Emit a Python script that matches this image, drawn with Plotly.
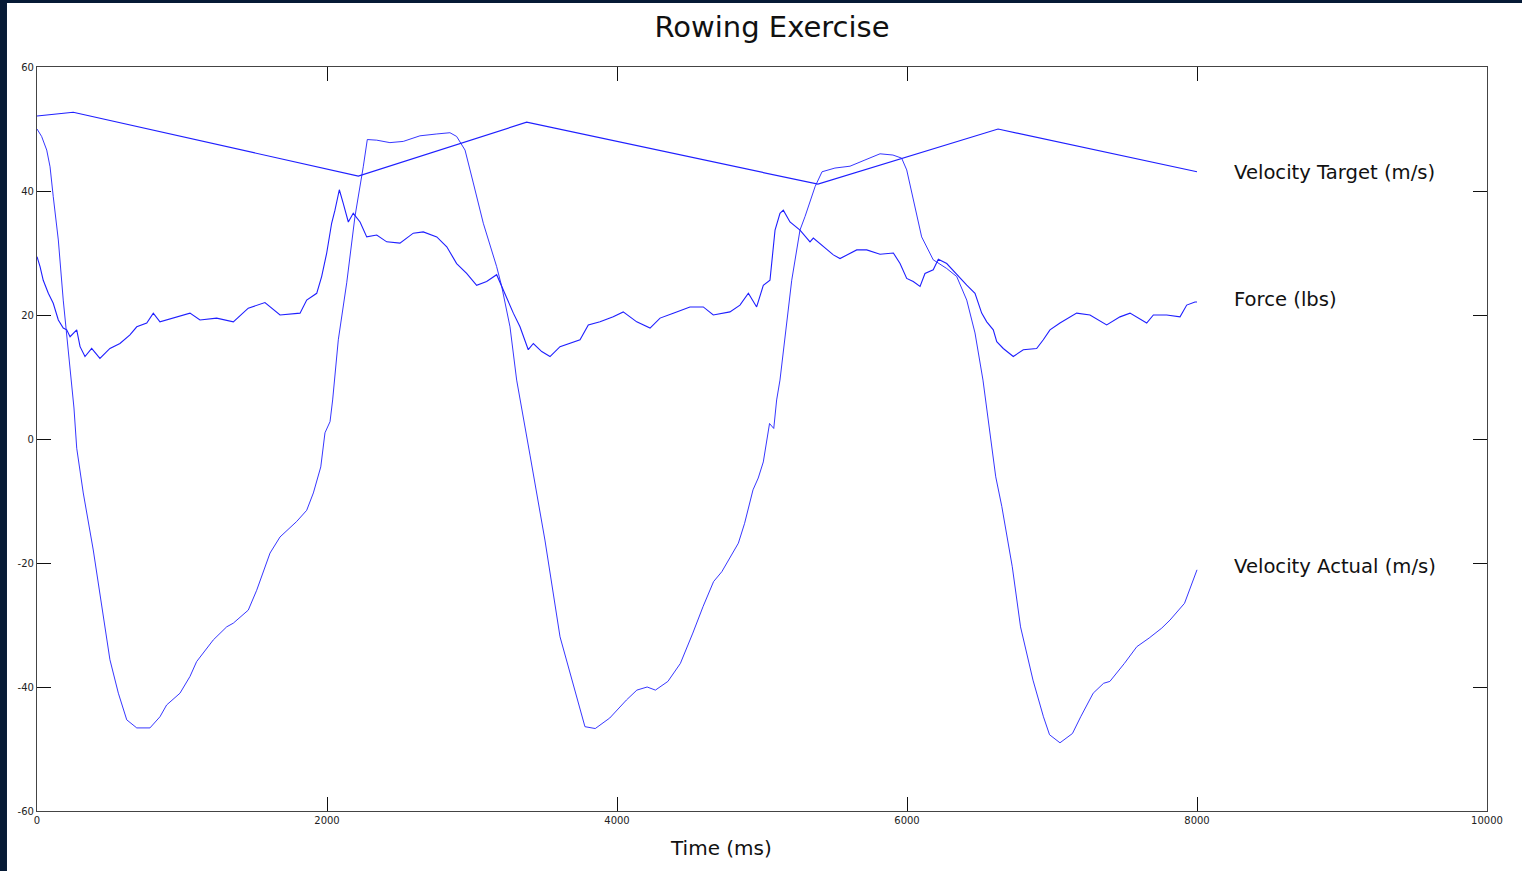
import plotly.graph_objects as go

# ---- data ----
target_t = [0, 250, 2216, 3377, 5386, 6628, 8000]
target_v = [52.1, 52.7, 42.4, 51.1, 41.1, 50.0, 43.1]

actual_t = [0, 32, 67, 90, 112, 147, 181, 216, 234, 255, 274, 319, 388, 446, 503, 561, 619, 688, 779,
            848, 894, 986, 1055, 1101, 1216, 1308, 1354, 1457, 1515, 1607, 1676, 1791, 1860, 1906, 1929,
            1957, 1986, 2021, 2039, 2078, 2136, 2193, 2250, 2278, 2343, 2434, 2526, 2641, 2757, 2848,
            2894, 2952, 3009, 3078, 3170, 3205, 3262, 3308, 3400, 3503, 3607, 3692, 3779, 3850, 3950,
            4065, 4137, 4208, 4265, 4351, 4437, 4523, 4594, 4666, 4723, 4837, 4880, 4938, 4974, 5009,
            5052, 5081, 5101, 5124, 5205, 5262, 5297, 5366, 5414, 5503, 5607, 5710, 5814, 5903, 5963,
            5998, 6043, 6101, 6181, 6274, 6343, 6412, 6469, 6524, 6612, 6654, 6726, 6783, 6869, 6941,
            6983, 7055, 7141, 7198, 7284, 7356, 7399, 7499, 7585, 7670, 7757, 7814, 7914, 7957, 8000]
actual_v = [50.0, 48.8, 46.6, 43.9, 39.1, 32.1, 22.4, 13.9, 9.5, 5.0, -1.5, -8.7, -17.9, -27.0, -35.6,
            -41.0, -45.3, -46.6, -46.6, -44.8, -42.9, -41.0, -38.3, -35.9, -32.4, -30.3, -29.7, -27.6,
            -24.4, -18.4, -15.8, -13.3, -11.5, -8.7, -6.6, -4.5, 1.0, 2.8, 6.3, 16.0, 25.2, 35.9, 43.9,
            48.3, 48.2, 47.8, 48.0, 48.9, 49.2, 49.4, 48.8, 46.6, 41.3, 34.8, 27.8, 24.6, 18.1, 9.5,
            -2.6, -16.3, -31.9, -38.9, -46.4, -46.7, -45.0, -42.1, -40.5, -40.0, -40.5, -39.1, -36.2,
            -31.3, -27.0, -23.0, -21.4, -16.8, -13.6, -8.2, -6.3, -3.7, 2.5, 1.7, 6.3, 9.5, 25.6, 33.7,
            35.9, 40.7, 43.1, 43.7, 44.0, 45.0, 46.0, 45.8, 45.3, 43.4, 38.5, 32.6, 28.9, 27.5, 26.2,
            22.4, 17.1, 9.5, -6.1, -10.9, -20.6, -30.3, -38.9, -44.8, -47.7, -49.0, -47.5, -44.8, -41.0,
            -39.4, -39.1, -36.2, -33.5, -32.1, -30.5, -29.2, -26.5, -23.8, -21.1]

force_t = [0, 21, 43, 78, 112, 147, 181, 205, 228, 274, 297, 331, 377, 434, 503, 572, 641, 688, 757,
           802, 848, 940, 1055, 1124, 1239, 1354, 1457, 1572, 1676, 1814, 1860, 1929, 1963, 1998, 2032,
           2055, 2085, 2112, 2147, 2181, 2228, 2274, 2343, 2412, 2503, 2595, 2664, 2757, 2826, 2894,
           2963, 3032, 3101, 3170, 3216, 3285, 3331, 3388, 3423, 3481, 3538, 3607, 3745, 3802, 3883,
           3974, 4043, 4136, 4228, 4297, 4388, 4503, 4595, 4664, 4779, 4848, 4906, 4963, 5009, 5055,
           5090, 5124, 5147, 5193, 5262, 5331, 5354, 5423, 5492, 5538, 5653, 5722, 5814, 5906, 5952,
           5998, 6043, 6090, 6124, 6181, 6216, 6274, 6343, 6412, 6469, 6515, 6550, 6595, 6619, 6664,
           6733, 6802, 6894, 6940, 6986, 7055, 7170, 7262, 7377, 7469, 7538, 7653, 7699, 7791, 7883,
           7929, 7986, 8000]
force_v = [29.4, 27.8, 25.6, 23.5, 21.9, 19.2, 17.9, 17.6, 16.5, 17.6, 14.9, 13.3, 14.6, 13.0, 14.6,
           15.4, 16.8, 18.1, 18.7, 20.3, 18.9, 19.5, 20.3, 19.2, 19.5, 18.9, 21.1, 22.0, 20.0, 20.3,
           22.4, 23.5, 26.2, 30.0, 34.8, 36.9, 40.2, 38.0, 35.0, 36.4, 35.0, 32.6, 32.9, 31.8, 31.6,
           33.2, 33.4, 32.6, 31.0, 28.3, 26.7, 24.8, 25.4, 26.5, 24.0, 20.3, 18.1, 14.4, 15.4, 14.1,
           13.3, 14.9, 16.0, 18.4, 18.9, 19.7, 20.5, 18.9, 17.9, 19.5, 20.3, 21.3, 21.3, 20.0, 20.5,
           21.6, 23.5, 21.3, 24.8, 25.6, 33.7, 36.4, 36.9, 35.0, 33.7, 31.8, 32.4, 31.0, 29.7, 29.1,
           30.5, 30.5, 29.8, 30.0, 28.3, 25.9, 25.4, 24.6, 26.7, 27.3, 29.0, 28.3, 26.5, 24.8, 23.5,
           20.3, 18.9, 17.6, 15.7, 14.6, 13.3, 14.4, 14.6, 16.0, 17.6, 18.7, 20.3, 20.0, 18.4, 19.7,
           20.3, 18.7, 20.0, 20.0, 19.7, 21.6, 22.1, 22.1]

labels = ["Velocity Target (m/s)", "Force (lbs)", "Velocity Actual (m/s)"]
label_y = [43, 22.5, -20.5]
label_x = 8241

x_ticks = [0, 2000, 4000, 6000, 8000, 10000]
y_ticks = [-60, -40, -20, 0, 20, 40, 60]

BLUE = "#1f1fff"

fig = go.Figure()
fig.add_trace(go.Scatter(x=target_t, y=target_v, mode="lines", name=labels[0],
                         line=dict(color=BLUE, width=1.2)))
fig.add_trace(go.Scatter(x=force_t, y=force_v, mode="lines", name=labels[1],
                         line=dict(color=BLUE, width=1.1)))
fig.add_trace(go.Scatter(x=actual_t, y=actual_v, mode="lines", name=labels[2],
                         line=dict(color=BLUE, width=0.9)))

for txt, yy in zip(labels, label_y):
    fig.add_annotation(x=label_x, y=yy, text=txt, showarrow=False, xanchor="left",
                       yanchor="middle", font=dict(size=19.6, color="#111111",
                                                   family="DejaVu Sans"))

# x-axis title (slightly left of centre, as in the reference)
fig.add_annotation(xref="paper", yref="paper", x=(721 - 37) / 1450, y=-(848 - 811) / 744,
                   text="Time (ms)", showarrow=False, xanchor="center", yanchor="middle",
                   font=dict(size=20, color="#111111", family="DejaVu Sans"))

# dark page frame with white sheet
fig.add_shape(type="rect", xref="paper", yref="paper", x0=-0.0207, x1=1.1,
              y0=-0.2, y1=1.0860, fillcolor="white", line=dict(width=0), layer="below")

axis_common = dict(showline=True, linecolor="#444444", linewidth=1.2, mirror="ticks",
                   ticks="inside", ticklen=14, tickcolor="#111111", tickwidth=1,
                   showgrid=False, zeroline=False,
                   tickfont=dict(size=10, color="#222222", family="DejaVu Sans"))

fig.update_xaxes(range=[0, 10000], tickvals=x_ticks, ticktext=[str(v) for v in x_ticks],
                 **axis_common)
fig.update_yaxes(range=[-60, 60], tickvals=y_ticks, ticktext=[str(v) for v in y_ticks],
                 **axis_common)

fig.update_layout(
    width=1522, height=871,
    margin=dict(l=37, r=35, t=67, b=60),
    paper_bgcolor="#061a35", plot_bgcolor="white",
    showlegend=False,
    title=dict(text="Rowing Exercise", x=(772 - 37) / 1450, xref="paper", xanchor="center",
               y=1 - 26.5 / 871, yanchor="middle", yref="container",
               font=dict(size=29, color="#111111", family="DejaVu Sans")),
)

fig.write_html("out.html")
